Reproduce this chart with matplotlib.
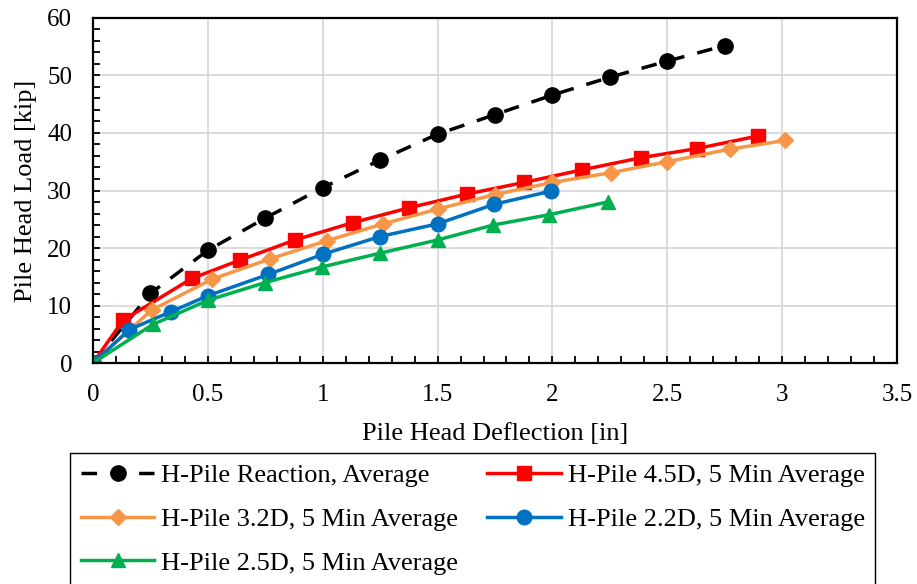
import matplotlib.pyplot as plt
from matplotlib.ticker import MultipleLocator

plt.rcParams['font.family'] = ['Liberation Serif', 'DejaVu Serif']

# Dados
x_reacao = [0, 0.25, 0.5, 0.75, 1.0, 1.25, 1.5, 1.75, 2.0, 2.25, 2.5, 2.75]
y_reacao = [0, 12.1, 19.6, 25.2, 30.5, 35.3, 39.8, 43.2, 46.6, 49.7, 52.5, 55.2]

x_45d = [0, 0.13, 0.43, 0.64, 0.88, 1.13, 1.377, 1.63, 1.876, 2.13, 2.386, 2.63, 2.897]
y_45d = [0, 7.4, 14.7, 17.9, 21.4, 24.4, 27.0, 29.4, 31.4, 33.6, 35.7, 37.3, 39.5]

x_32d = [0, 0.255, 0.52, 0.77, 1.02, 1.264, 1.503, 1.75, 2.0, 2.255, 2.5, 2.773, 3.013]
y_32d = [0, 9.2, 14.6, 18.1, 21.3, 24.2, 26.8, 29.3, 31.4, 33.1, 35.0, 37.2, 38.7]

x_22d = [0, 0.158, 0.338, 0.5, 0.763, 1.0, 1.25, 1.5, 1.746, 1.995]
y_22d = [0, 5.8, 8.9, 11.7, 15.4, 18.9, 22.0, 24.2, 27.6, 29.9]

x_25d = [0, 0.26, 0.5, 0.75, 0.996, 1.25, 1.5, 1.743, 1.987, 2.24]
y_25d = [0, 6.7, 10.9, 14.0, 16.7, 19.1, 21.4, 24.0, 25.8, 28.0]

fig = plt.figure(figsize=(9.17, 5.84), dpi=100)
ax = fig.add_axes([0.1014, 0.3784, 0.8768, 0.5908])

lw = 2.5
l1, = ax.plot(x_reacao, y_reacao, color='black', lw=lw, dashes=(4.5, 3.8),
              marker='o', ms=11, label='H-Pile Reaction, Average')
l2, = ax.plot(x_45d, y_45d, color='#FF0000', lw=lw, marker='s', ms=10,
              label='H-Pile 4.5D, 5 Min Average')
l3, = ax.plot(x_32d, y_32d, color='#F79646', lw=lw, marker='D', ms=8,
              label='H-Pile 3.2D, 5 Min Average')
l4, = ax.plot(x_22d, y_22d, color='#0070C0', lw=lw, marker='o', ms=10.5,
              label='H-Pile 2.2D, 5 Min Average')
l5, = ax.plot(x_25d, y_25d, color='#00B050', lw=lw, marker='^', ms=10.5,
              label='H-Pile 2.5D, 5 Min Average')

ax.set_xlim(0, 3.5)
ax.set_ylim(0, 60)
ax.xaxis.set_major_locator(MultipleLocator(0.5))
ax.xaxis.set_minor_locator(MultipleLocator(0.1))
ax.yaxis.set_major_locator(MultipleLocator(10))
ax.yaxis.set_minor_locator(MultipleLocator(2))
ax.xaxis.set_major_formatter(plt.FuncFormatter(lambda v, p: f'{v:g}'))
ax.tick_params(which='both', direction='in', length=5, width=1.3,
               labelsize=18, pad=15)
ax.tick_params(axis='y', pad=15)
ax.grid(True, which='major', color='#d9d9d9', lw=1.3)
ax.set_axisbelow(True)
for s in ax.spines.values():
    s.set_linewidth(1.6)

ax.set_xlabel('Pile Head Deflection [in]', fontsize=19, labelpad=12)
ax.set_ylabel('Pile Head Load [kip]', fontsize=19, labelpad=7)

fig.legend(handles=[l1, l3, l5, l2, l4], ncol=2, loc='upper left',
           bbox_to_anchor=(70 / 917, 1 - 453 / 584), fontsize=19,
           frameon=True, fancybox=False, edgecolor='black', framealpha=1,
           handlelength=2.8, handletextpad=0.25, columnspacing=1.1,
           labelspacing=0.77, borderpad=0.4, borderaxespad=0)

fig.savefig('out.png', dpi=100)
